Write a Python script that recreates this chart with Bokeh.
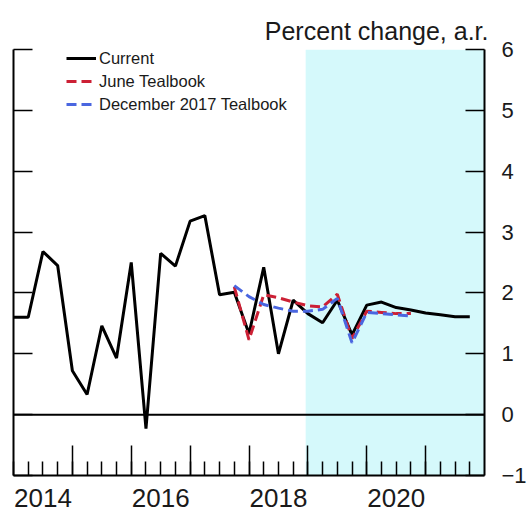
from bokeh.plotting import figure
from bokeh.models import (ColumnDataSource, FixedTicker, LinearAxis, Range1d, BoxAnnotation,
                          Span, Legend, LegendItem, Title)
from bokeh.embed import file_html
from bokeh.resources import INLINE

# ---- data (quarterly, 2014Q1 .. 2021Q4, index 0..31) ----
quarter_index = list(range(32))
current = [1.60, 1.60, 2.68, 2.45, 0.72, 0.33, 1.46, 0.93, 2.50, -0.23,
           2.65, 2.44, 3.18, 3.27, 1.97, 2.01, 1.33, 2.42, 1.00, 1.88,
           1.66, 1.51, 1.88, 1.31, 1.80, 1.85, 1.76, 1.72, 1.67, 1.64, 1.61, 1.61]
forecast_index = list(range(15, 28))
june_tealbook = [2.10, 1.23, 1.97, 1.92, 1.85, 1.79, 1.77, 1.98, 1.25, 1.70, 1.68, 1.66, 1.66]
dec2017_tealbook = [2.12, 1.94, 1.81, 1.75, 1.70, 1.70, 1.73, 1.91, 1.18, 1.68, 1.66, 1.64, 1.62]

year_labels = {2: "2014", 10: "2016", 18: "2018", 26: "2020"}
year_boundaries = [4, 8, 12, 16, 20, 24, 28]
y_ticks = [-1, 0, 1, 2, 3, 4, 5, 6]
forecast_start = 19.85
forecast_end = 32
title_text = "Percent change, a.r."

FONT = "Liberation Sans"
RED = "#cc2035"
BLUE = "#4a66e0"

p = figure(width=529, height=514, output_backend="svg", toolbar_location=None,
           x_range=Range1d(0, 32), y_range=Range1d(-1, 6),
           x_axis_location=None, y_axis_location=None,
           min_border_left=13, min_border_right=45, min_border_top=49, min_border_bottom=39)
p.outline_line_color = None
p.xgrid.visible = False
p.ygrid.visible = False
p.background_fill_color = "white"
p.border_fill_color = "white"

# forecast shading
p.add_layout(BoxAnnotation(left=forecast_start, right=forecast_end, bottom=-1, top=6,
                           fill_color="#d5f9fb", fill_alpha=1.0, line_color=None,
                           level="underlay"))
p.add_layout(Span(location=0, dimension="width", line_color="black", line_width=2))

src_c = ColumnDataSource(dict(x=quarter_index, y=current))
src_f = ColumnDataSource(dict(x=forecast_index, june=june_tealbook, dec=dec2017_tealbook))

r_cur = p.line("x", "y", source=src_c, line_color="black", line_width=3)
r_jun = p.line("x", "june", source=src_f, line_color=RED, line_width=3, line_dash="10 5")
r_dec = p.line("x", "dec", source=src_f, line_color=BLUE, line_width=3, line_dash="10 5")

# y axes (ticks inward on both sides, labels on the right)
yl = LinearAxis(ticker=FixedTicker(ticks=y_ticks), major_tick_in=19, major_tick_out=0,
                minor_tick_in=0, minor_tick_out=0, axis_line_width=2, major_tick_line_width=1.5,
                major_label_overrides={t: "" for t in y_ticks},
                major_label_text_font_size="1px", major_label_standoff=0)
p.add_layout(yl, "left")
yr = LinearAxis(ticker=FixedTicker(ticks=y_ticks), major_tick_in=19, major_tick_out=0,
                minor_tick_in=0, minor_tick_out=0, axis_line_width=2, major_tick_line_width=1.5,
                major_label_text_font=FONT, major_label_text_font_size="22px",
                major_label_text_color="#1a1a1a", major_label_standoff=17,
                major_label_overrides={-1: "\u22121"})
p.add_layout(yr, "right")

# x axes: ticks on one, year labels on another
xb = LinearAxis(ticker=FixedTicker(ticks=year_boundaries, minor_ticks=quarter_index),
                major_tick_in=30, major_tick_out=0, minor_tick_in=14, minor_tick_out=0,
                axis_line_width=2, major_tick_line_width=1.5, minor_tick_line_width=1.5,
                minor_tick_line_color="black",
                major_label_overrides={t: "" for t in year_boundaries},
                major_label_text_font_size="1px", major_label_standoff=0)
p.add_layout(xb, "below")
xl = LinearAxis(ticker=FixedTicker(ticks=list(year_labels.keys())),
                major_label_overrides={k: v for k, v in year_labels.items()},
                axis_line_color=None, major_tick_line_color=None, minor_tick_line_color=None,
                major_tick_in=0, major_tick_out=0,
                major_label_text_font=FONT, major_label_text_font_size="26px",
                major_label_text_color="#1a1a1a", major_label_standoff=13)
p.add_layout(xl, "below")

# units title
t = Title(text=title_text, align="right", text_font=FONT, text_font_size="25px",
          text_line_height=1.25, text_font_style="normal", text_color="#1a1a1a", offset=-4)
p.add_layout(t, "above")

legend = Legend(items=[LegendItem(label="Current", renderers=[r_cur]),
                       LegendItem(label="June Tealbook", renderers=[r_jun]),
                       LegendItem(label="December 2017 Tealbook", renderers=[r_dec])],
                location=(53, 361), padding=0, margin=0, spacing=3,
                glyph_width=30, glyph_height=20, label_height=20, label_standoff=3,
                label_text_font=FONT, label_text_font_size="16.5px", label_text_color="#1a1a1a",
                background_fill_alpha=0, border_line_color=None)
p.add_layout(legend, "center")

open("out.html", "w").write(file_html(p, INLINE))
